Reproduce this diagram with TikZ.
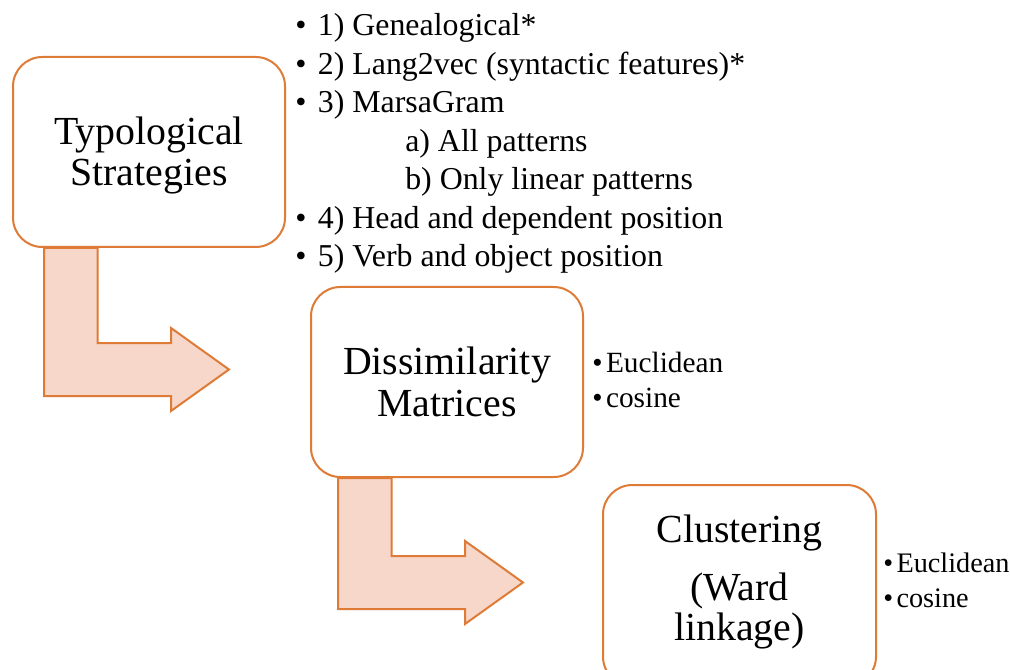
\documentclass[tikz,border=0pt]{standalone}
\usepackage{fontspec}
\setmainfont{Liberation Serif}
\usetikzlibrary{calc,backgrounds}

\definecolor{boxline}{HTML}{DE7B37}
\definecolor{arrowfill}{HTML}{F8D7CB}

\tikzset{
  stage/.style={draw=boxline,line width=1.5pt,fill=white,rounded corners=22pt,
    align=center,minimum width=204pt,minimum height=142.5pt,
    font=\fontsize{29.85}{31.1}\selectfont},
  item/.style={anchor=base west,inner sep=0pt,font=\fontsize{23.9}{28}\selectfont},
  metric/.style={anchor=base west,inner sep=0pt,font=\fontsize{21.2}{25}\selectfont},
  bent/.style={draw=boxline,line width=1.5pt,fill=arrowfill,line join=miter},
}

% bent arrow: #1 top left corner of the shaft, #2 drop before the turn
\newcommand{\bentarrow}[2]{%
  \draw[bent] (#1) -- ++(53.5,0) -- ++(0,#2) -- ++(73.5,0) -- ++(0,-15)
    -- ++(58,41.5) -- ++(-58,41.5) -- ++(0,-15) -- ++(-127,0) -- cycle;}

\begin{document}
\begin{tikzpicture}[x=0.75pt,y=-0.75pt]
\useasboundingbox (0,0) rectangle (1010,670);
\clip (0,0) rectangle (1010,670);
%%
\node (typo) at (149,152) [stage,text depth=1pt] {Typological\\Strategies};
\node (dissim) at (447,382) [stage] {Dissimilarity\\Matrices};
\node (clust) at (739.5,585.5) [stage,minimum width=204.75pt,minimum height=150.75pt,
  font=\fontsize{29.85}{30}\selectfont,text depth=11.8pt]
  {Clustering\\[13.5pt](Ward\\linkage)};
%
\foreach \x/\y/\txt [count=\i] in {
  295/36/{•\hspace{.36em}1) Genealogical*},
  295/74.5/{•\hspace{.36em}2) Lang2vec (syntactic features)*},
  295/113/{•\hspace{.36em}3) MarsaGram},
  405/151.5/{a) All patterns},
  405/190/{b) Only linear patterns},
  295/228.5/{•\hspace{.36em}4) Head and dependent position},
  295/267/{•\hspace{.36em}5) Verb and object position}}
  \node (feat\i) at (\x,\y) [item] {\txt};
%
\node (eucA) at (592,372) [metric,font=\fontsize{22}{25}\selectfont] {•\hspace{.12em}Euclidean};
\node (cosA) at (592,407) [metric,font=\fontsize{22}{25}\selectfont] {•\hspace{.12em}cosine};
\node (eucB) at (883,572) [metric] {•\hspace{.12em}Euclidean};
\node (cosB) at (883,607) [metric] {•\hspace{.12em}cosine};
%
\begin{scope}[on background layer]
  \bentarrow{$(typo.south west)+(32,0)$}{95}
  \bentarrow{$(dissim.south west)+(28,0)$}{78}
\end{scope}
%
\end{tikzpicture}
\end{document}
